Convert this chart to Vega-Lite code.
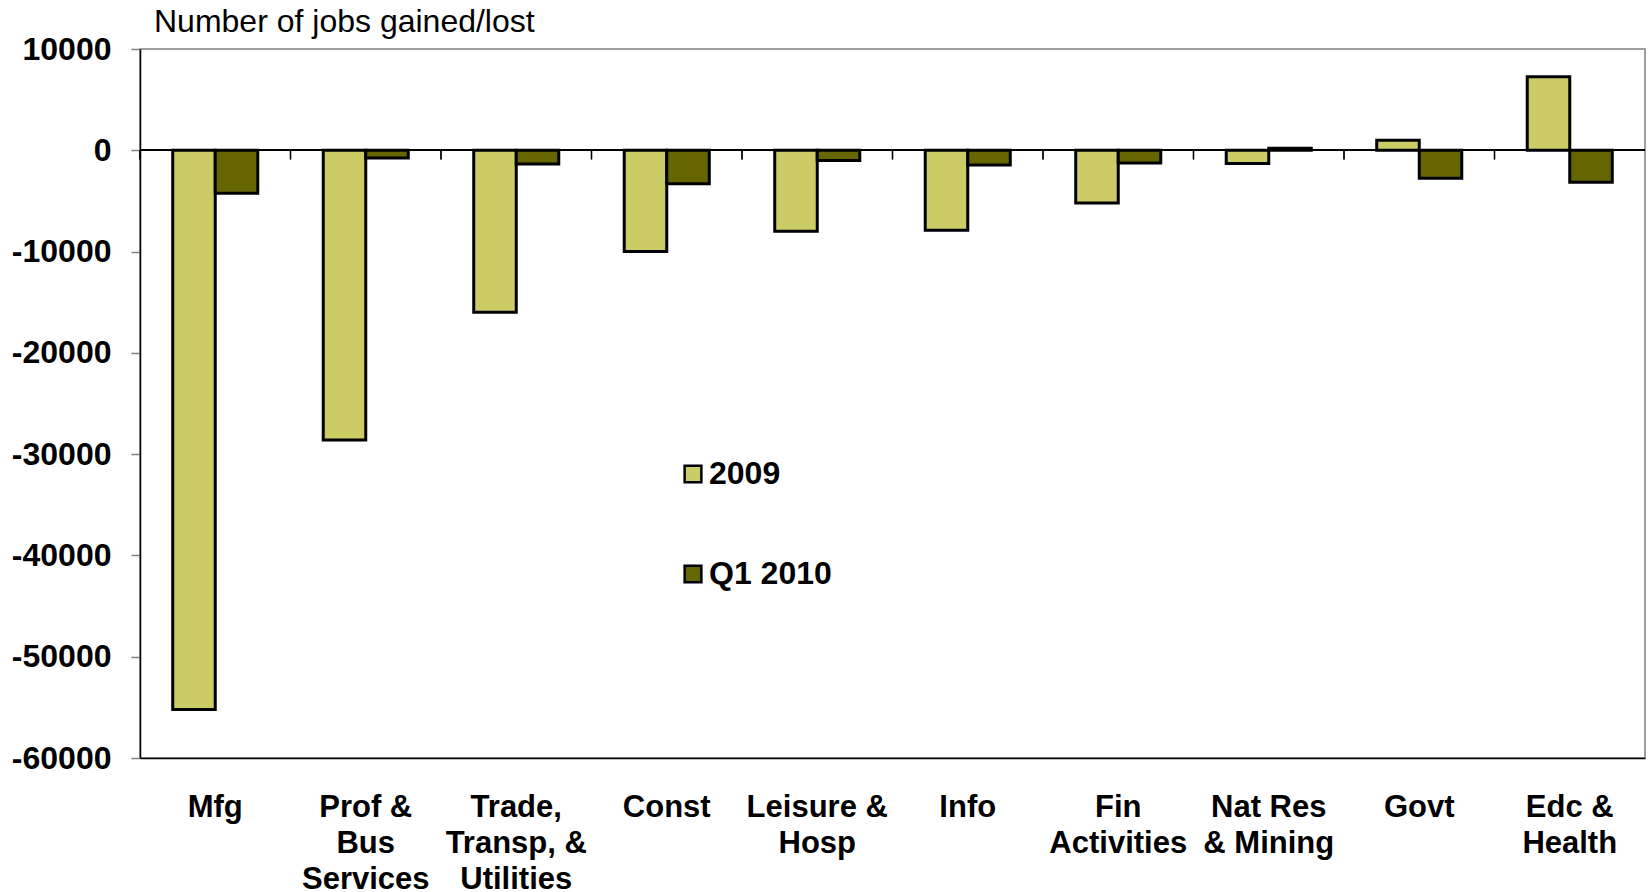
{
  "$schema": "https://vega.github.io/schema/vega-lite/v6.json",
  "width": 1505,
  "height": 709,
  "autosize": {"type": "none"},
  "padding": {"left": 140, "top": 49, "right": 3, "bottom": 134},
  "background": "white",
  "title": {
    "text": "Number of jobs gained/lost",
    "anchor": "start",
    "frame": "group",
    "orient": "top",
    "dx": 14,
    "offset": -31,
    "baseline": "alphabetic",
    "font": "Liberation Sans",
    "fontSize": 32,
    "fontWeight": "normal",
    "color": "black"
  },
  "config": {
    "view": {"stroke": "#808080", "strokeWidth": 1.5},
    "font": "Liberation Sans"
  },
  "datasets": {
    "jobs": [
      {"category": "Mfg", "series": "2009", "value": -55200},
      {"category": "Mfg", "series": "Q1 2010", "value": -4250},
      {"category": "Prof & Bus Services", "series": "2009", "value": -28600},
      {"category": "Prof & Bus Services", "series": "Q1 2010", "value": -750},
      {"category": "Trade, Transp, & Utilities", "series": "2009", "value": -16000},
      {"category": "Trade, Transp, & Utilities", "series": "Q1 2010", "value": -1350},
      {"category": "Const", "series": "2009", "value": -10000},
      {"category": "Const", "series": "Q1 2010", "value": -3300},
      {"category": "Leisure & Hosp", "series": "2009", "value": -8000},
      {"category": "Leisure & Hosp", "series": "Q1 2010", "value": -1000},
      {"category": "Info", "series": "2009", "value": -7900},
      {"category": "Info", "series": "Q1 2010", "value": -1450},
      {"category": "Fin Activities", "series": "2009", "value": -5200},
      {"category": "Fin Activities", "series": "Q1 2010", "value": -1250},
      {"category": "Nat Res & Mining", "series": "2009", "value": -1300},
      {"category": "Nat Res & Mining", "series": "Q1 2010", "value": 200},
      {"category": "Govt", "series": "2009", "value": 1000},
      {"category": "Govt", "series": "Q1 2010", "value": -2750},
      {"category": "Edc & Health", "series": "2009", "value": 7250},
      {"category": "Edc & Health", "series": "Q1 2010", "value": -3150}
    ]
  },
  "data": {"name": "jobs"},
  "layer": [
    {
      "mark": {"type": "rule", "color": "black", "strokeWidth": 1.3},
      "encoding": {
        "y": {"datum": 0, "type": "quantitative"}
      }
    },
    {
      "mark": {"type": "rule", "color": "black", "strokeWidth": 1.3},
      "encoding": {
        "x": {
          "field": "category",
          "type": "nominal",
          "bandPosition": 0,
          "sort": ["Mfg", "Prof & Bus Services", "Trade, Transp, & Utilities", "Const", "Leisure & Hosp", "Info", "Fin Activities", "Nat Res & Mining", "Govt", "Edc & Health"],
          "scale": {"type": "band", "paddingInner": 0, "paddingOuter": 0},
          "axis": null
        },
        "y": {"datum": 0, "type": "quantitative"},
        "y2": {"datum": -900}
      }
    },
    {
      "mark": {"type": "bar", "stroke": "black", "strokeWidth": 3, "strokeJoin": "miter"},
      "encoding": {
        "x": {
          "field": "category",
          "type": "nominal",
          "sort": ["Mfg", "Prof & Bus Services", "Trade, Transp, & Utilities", "Const", "Leisure & Hosp", "Info", "Fin Activities", "Nat Res & Mining", "Govt", "Edc & Health"],
          "scale": {"paddingInner": 0.435, "paddingOuter": 0.2175},
          "axis": {
            "title": null,
            "orient": "bottom",
            "ticks": false,
            "tickSize": 0,
            "domain": true,
            "domainColor": "black",
            "domainWidth": 1.5,
            "labelAngle": 0,
            "labelFont": "Liberation Sans",
            "labelFontSize": 31,
            "labelFontWeight": "bold",
            "labelColor": "black",
            "labelPadding": 34,
            "labelLineHeight": 36,
            "labelOverlap": false,
            "labelLimit": 400,
            "labelExpr": "datum.value == 'Prof & Bus Services' ? ['Prof &','Bus','Services'] : datum.value == 'Trade, Transp, & Utilities' ? ['Trade,','Transp, &','Utilities'] : datum.value == 'Leisure & Hosp' ? ['Leisure &','Hosp'] : datum.value == 'Fin Activities' ? ['Fin','Activities'] : datum.value == 'Nat Res & Mining' ? ['Nat Res','& Mining'] : datum.value == 'Edc & Health' ? ['Edc &','Health'] : datum.value"
          }
        },
        "xOffset": {"field": "series", "type": "nominal", "sort": ["2009", "Q1 2010"]},
        "y": {
          "field": "value",
          "type": "quantitative",
          "scale": {"domain": [-60000, 10000], "nice": false, "zero": false},
          "axis": {
            "title": null,
            "values": [-60000, -50000, -40000, -30000, -20000, -10000, 0, 10000],
            "labelExpr": "'' + datum.value",
            "grid": false,
            "domain": true,
            "domainColor": "black",
            "domainWidth": 1.5,
            "ticks": true,
            "tickSize": 9,
            "tickColor": "#808080",
            "tickWidth": 1.5,
            "labelFont": "Liberation Sans",
            "labelFontSize": 32,
            "labelFontWeight": "bold",
            "labelColor": "black",
            "labelPadding": 20
          }
        },
        "color": {
          "field": "series",
          "type": "nominal",
          "scale": {"domain": ["2009", "Q1 2010"], "range": ["#CCCC66", "#666600"]},
          "legend": {
            "title": null,
            "orient": "none",
            "legendX": 537,
            "legendY": 409,
            "direction": "vertical",
            "symbolType": "square",
            "symbolSize": 280,
            "symbolStrokeColor": "black",
            "symbolStrokeWidth": 2.5,
            "symbolOpacity": 1,
            "labelFont": "Liberation Sans",
            "labelFontSize": 32,
            "labelFontWeight": "bold",
            "labelColor": "black",
            "labelOffset": 0,
            "rowPadding": 68,
            "padding": 0
          }
        }
      }
    }
  ],
  "resolve": {"scale": {"x": "independent"}, "axis": {"x": "independent"}}
}
